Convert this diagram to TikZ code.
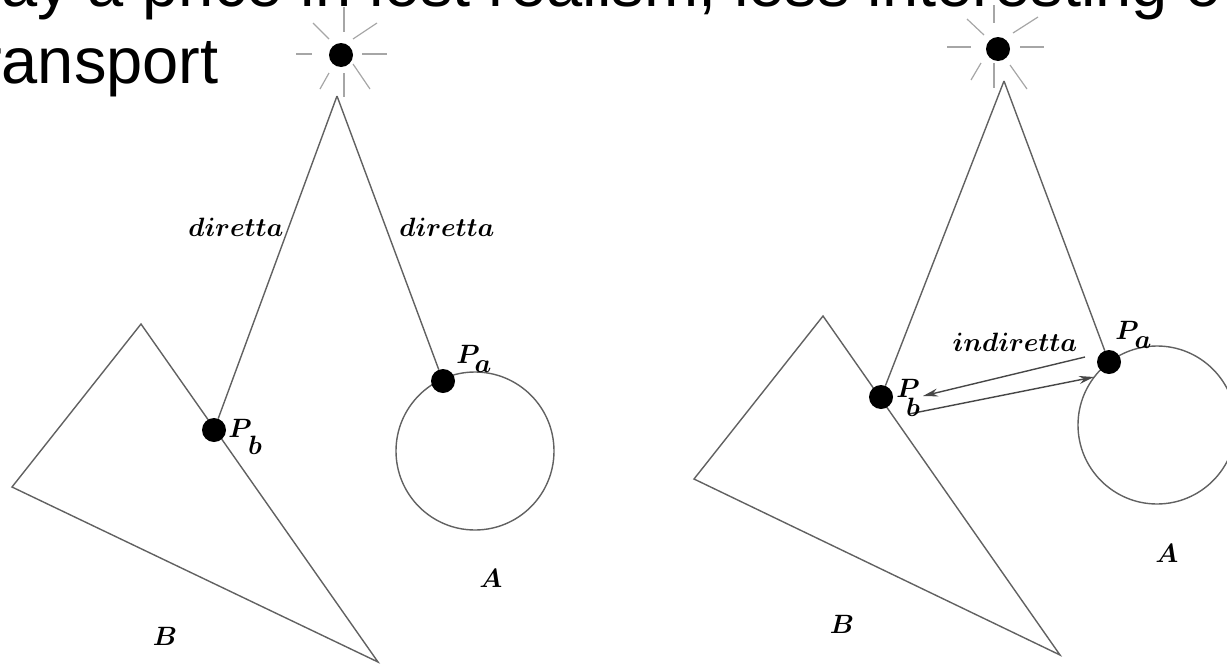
\RequirePackage{fix-cm}
\documentclass[tikz,border=0pt]{standalone}
\usepackage{amsmath}
\usepackage{amssymb}
\usepackage{fontspec}
\setmainfont{Liberation Sans}
\usetikzlibrary{arrows.meta,calc}

\tikzset{
    headline/.style={anchor=base west, inner sep=0pt, font=\fontsize{65}{65}\selectfont},
    tag/.style={inner sep=0pt, font=\fontsize{26.5}{26.5}\selectfont},
    spot/.style={circle, fill=black, inner sep=0pt, minimum size=24pt},
    ray/.style={line width=1.2pt, black!35},
    edge/.style={line width=1.4pt, black!62},
    bounce/.style={line width=1.4pt, black!72, -{Stealth[length=15pt,width=8pt]}}
}

\begin{document}
\begin{tikzpicture}[x=1pt, y=-1pt, >=Stealth]
    \useasboundingbox (0,0) rectangle (1227,667);
    \clip (0,0) rectangle (1227,667);
    % Slide text
    \node [headline] (lineone) at (1,6) {ay a price in lost realism, less interesting of};
    \node [headline] (linetwo) at (-20,83) {ransport};

    % Left: light
    \node [spot] (lightl) at (341,55) {};
    \foreach \xa/\ya/\xb/\yb in {296/54/312/54, 362/54/387/54, 344/7/344/32, 344/73/344/97,
        313/23/329/39, 377/23/353/39, 329/73/320/89, 353/64/370/89}
        \draw [ray] (\xa,\ya) -- (\xb,\yb);
    % Left: objects
    \coordinate (apexl) at (337,96);
    \draw [edge] (141,324) -- (12,487) -- (378,662) -- cycle;
    \draw [edge] (475,451) circle (79);
    \node [spot] (pal) at (443,381) {};
    \node [spot] (pbl) at (214,430) {};
    \draw [edge] (apexl) -- (pal);
    \draw [edge] (apexl) -- (pbl);
    % Left: labels
    \node [tag] (dirl) at (236,227) {$\boldsymbol{diretta}$};
    \node [tag] (dirr) at (447,227) {$\boldsymbol{diretta}$};
    \node [tag] (pal1) at (468,354) {$\boldsymbol{P}$};
    \node [tag] (pal2) at (483,367) {$\boldsymbol{a}$};
    \node [tag] (pbl1) at (240,428) {$\boldsymbol{P}$};
    \node [tag] (pbl2) at (255,445) {$\boldsymbol{b}$};
    \node [tag] (al) at (491,578) {$\boldsymbol{A}$};
    \node [tag] (bl) at (165,636) {$\boldsymbol{B}$};

    % Right: light
    \node [spot] (lightr) at (998,49) {};
    \foreach \xa/\ya/\xb/\yb in {947/47/971/47, 1020/47/1044/47, 994/5/994/23, 994/63/994/88,
        967/19/984/35, 1038/17/1013/33, 981/63/971/80, 1010/65/1027/89}
        \draw [ray] (\xa,\ya) -- (\xb,\yb);
    % Right: objects
    \coordinate (apexr) at (1004,81);
    \draw [edge] (823,316) -- (694,479) -- (1060,655) -- cycle;
    \draw [edge] (1157,425) circle (79);
    \node [spot] (par) at (1109,362) {};
    \node [spot] (pbr) at (881,397) {};
    \draw [edge] (apexr) -- (par);
    \draw [edge] (apexr) -- (pbr);
    % Right: indirect bounce
    \coordinate (outa) at (1085,357);
    \coordinate (tipb) at (923,396);
    \coordinate (outb) at (909,414);
    \coordinate (tipa) at (1094,377);
    \draw [bounce] (outa) -- (tipb);
    \draw [bounce] (outb) -- (tipa);
    % Right: labels
    \node [tag] (ind) at (1015,342) {$\boldsymbol{indiretta}$};
    \node [tag] (par1) at (1127,330) {$\boldsymbol{P}$};
    \node [tag] (par2) at (1143,343) {$\boldsymbol{a}$};
    \node [tag] (pbr1) at (908,388) {$\boldsymbol{P}$};
    \node [tag] (pbr2) at (913,407) {$\boldsymbol{b}$};
    \node [tag] (ar) at (1167,553) {$\boldsymbol{A}$};
    \node [tag] (br) at (842,624) {$\boldsymbol{B}$};
\end{tikzpicture}
\end{document}
